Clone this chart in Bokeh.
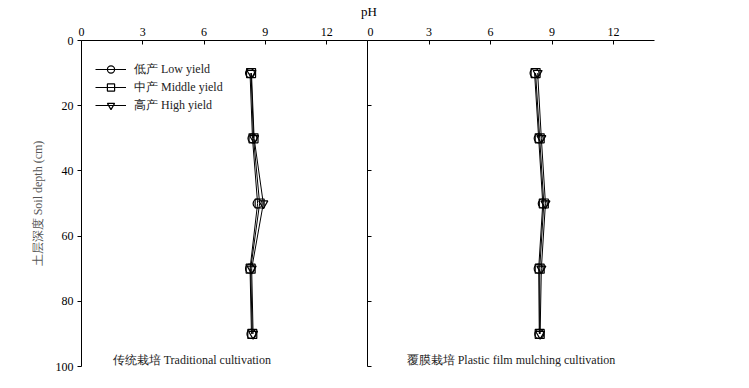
from bokeh.plotting import figure
from bokeh.models import Range1d, FixedTicker, Label, Legend, LegendItem, Div
from bokeh.layouts import row, column
from bokeh.embed import file_html
from bokeh.resources import INLINE

depth = [10, 30, 50, 70, 90]
x_ticks = [0, 3, 6, 9, 12]
y_ticks = [0, 20, 40, 60, 80, 100]

# Traditional cultivation
trad_low = [8.25, 8.37, 8.62, 8.25, 8.32]
trad_mid = [8.30, 8.42, 8.72, 8.28, 8.36]
trad_high = [8.32, 8.45, 8.90, 8.33, 8.40]
# Plastic film mulching cultivation
film_low = [8.15, 8.35, 8.55, 8.35, 8.38]
film_mid = [8.20, 8.40, 8.60, 8.40, 8.40]
film_high = [8.30, 8.48, 8.68, 8.48, 8.42]

series_names = ["低产 Low yield", "中产 Middle yield", "高产 High yield"]
markers = ["circle", "square", "inverted_triangle"]
panel_titles = ["传统栽培 Traditional cultivation", "覆膜栽培 Plastic film mulching cultivation"]

FONT = "'Liberation Serif', 'Times New Roman', serif"


def make_panel(series, title, title_x, first):
    p = figure(
        width=367 if first else 367, height=352,
        x_range=Range1d(0, 14), y_range=Range1d(100, 0),
        x_axis_location="above", output_backend="svg", toolbar_location=None,
        min_border_left=81 if first else 0, min_border_right=0 if first else 80,
        min_border_top=15, min_border_bottom=10,
    )
    p.outline_line_color = None
    p.grid.visible = False
    p.background_fill_color = "white"
    p.border_fill_color = "white"

    xa = p.xaxis[0]
    xa.ticker = FixedTicker(ticks=x_ticks)
    xa.minor_tick_line_color = None
    xa.major_tick_in = 4
    xa.major_tick_out = 0
    xa.major_label_standoff = 5
    xa.major_label_text_font = FONT
    xa.major_label_text_font_size = "12px"
    xa.major_label_text_color = "black"
    xa.axis_line_color = "black"
    xa.major_tick_line_color = "black"

    ya = p.yaxis[0]
    ya.ticker = FixedTicker(ticks=y_ticks)
    ya.minor_tick_line_color = None
    ya.axis_line_color = "black"
    ya.major_tick_line_color = "black"
    if first:
        ya.major_tick_in = 0
        ya.major_tick_out = 4
        ya.major_label_standoff = 4
        ya.major_label_text_font = FONT
        ya.major_label_text_font_size = "12px"
        ya.major_label_text_color = "black"
        ya.axis_label = "土层深度 Soil depth (cm)"
        ya.axis_label_text_font = FONT
        ya.axis_label_text_font_size = "12px"
        ya.axis_label_text_font_style = "normal"
        ya.axis_label_text_color = "#555555"
        ya.axis_label_standoff = 8
    else:
        ya.major_tick_in = 4
        ya.major_tick_out = 0
        ya.major_label_standoff = 0
        ya.major_label_text_font_size = "0px"
        ya.major_label_text_alpha = 0

    items = []
    for vals, name, mk in zip(series, series_names, markers):
        r1 = p.line(vals, depth, line_color="black", line_width=1)
        r2 = p.scatter(vals, depth, marker=mk, size=9, fill_color="white",
                       fill_alpha=0, line_color="black", line_width=1.2)
        items.append(LegendItem(label=name, renderers=[r1, r2]))

    if first:
        lg = Legend(items=items, location=(14, 252))
        lg.margin = 0
        lg.padding = 0
        lg.spacing = 0
        lg.label_height = 18
        lg.glyph_height = 18
        lg.glyph_width = 31
        lg.label_standoff = 8
        lg.label_text_font = FONT
        lg.label_text_font_size = "12px"
        lg.label_text_color = "#222222"
        lg.border_line_color = None
        lg.background_fill_alpha = 0
        p.add_layout(lg, "center")

    p.add_layout(Label(x=title_x, y=98, text=title, text_align="center",
                       text_baseline="middle", text_font=FONT,
                       text_font_size="12px", text_color="#222222"))
    return p


p1 = make_panel([trad_low, trad_mid, trad_high], panel_titles[0], 5.4, True)
p2 = make_panel([film_low, film_mid, film_high], panel_titles[1], 7.0, False)

title = Div(text="pH", width=728, height=14,
            styles={"text-align": "center", "font-family": "Liberation Serif",
                    "font-size": "13px", "color": "black", "line-height": "14px"})

layout = column(title, row(p1, p2))

open("out.html", "w").write(file_html(layout, INLINE))
